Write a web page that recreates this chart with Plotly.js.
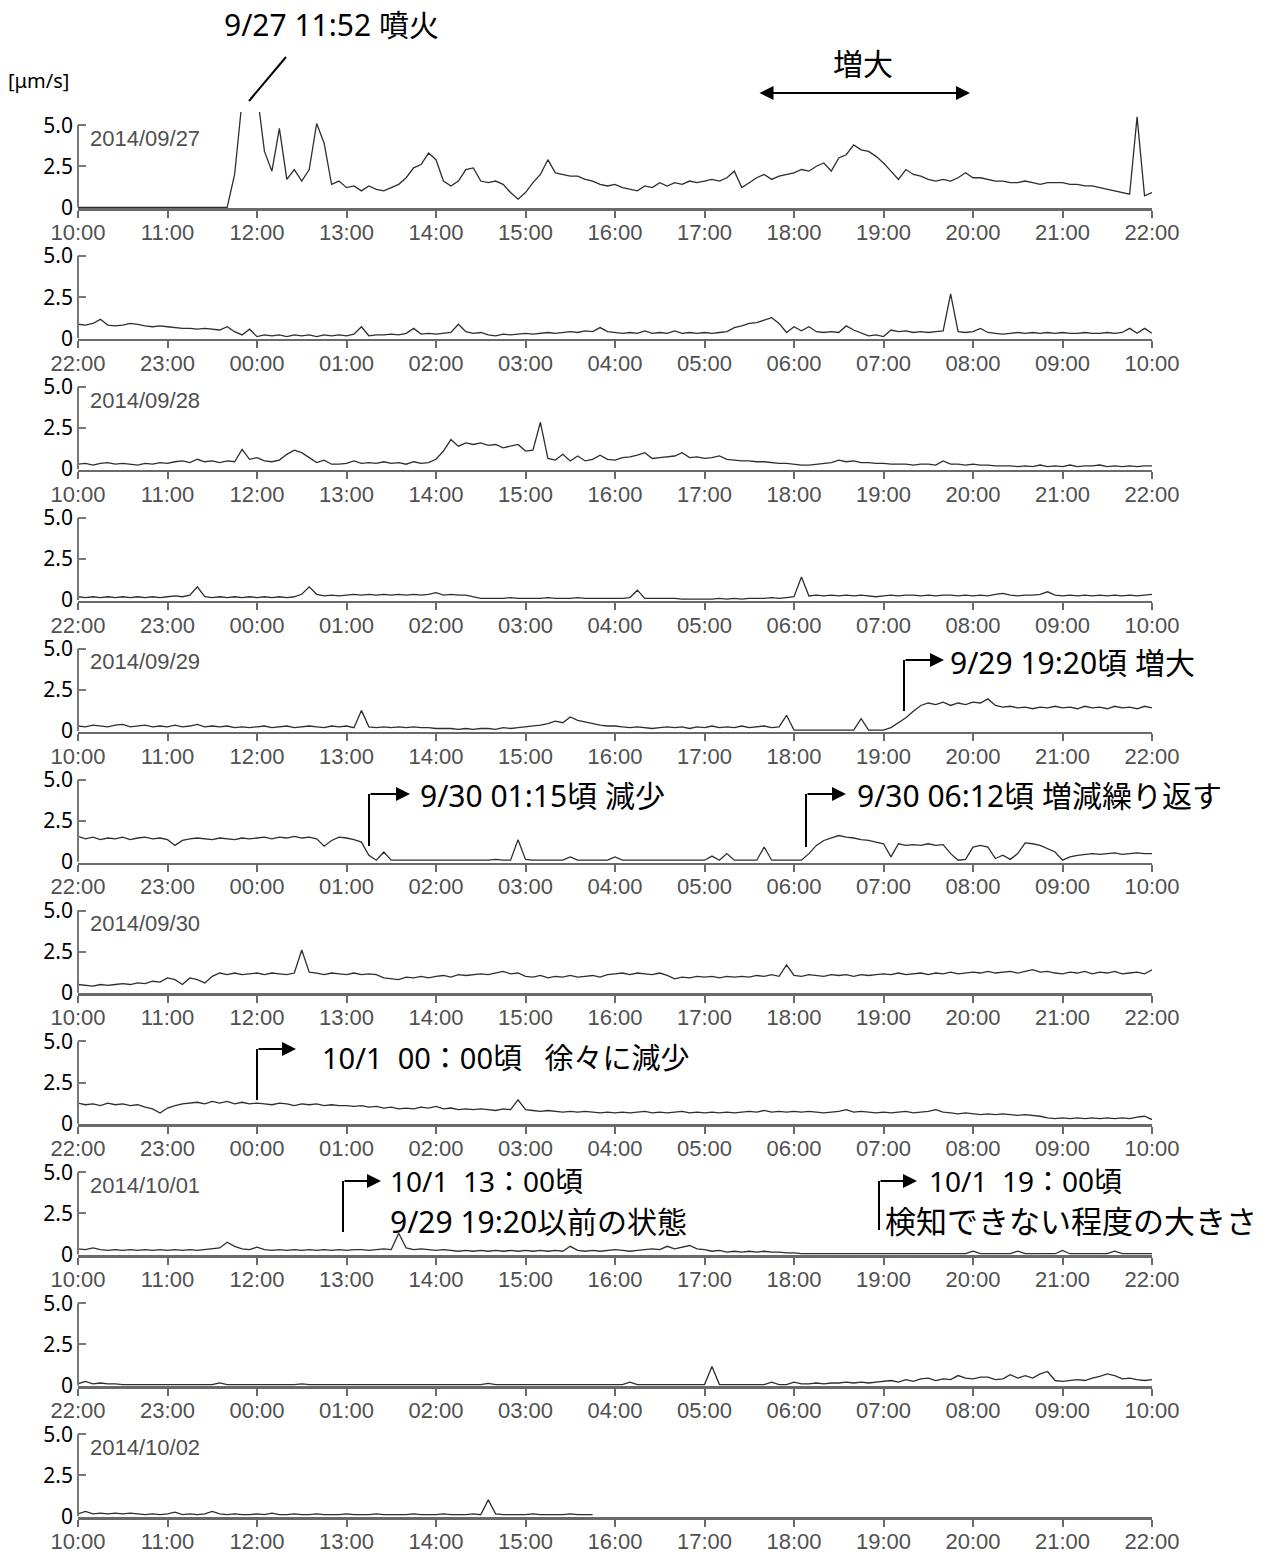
<!DOCTYPE html>
<html>
<head>
<meta charset="utf-8">
<script src="https://cdn.plot.ly/plotly-3.0.1.min.js"></script>
<style>html,body{margin:0;padding:0;background:#fff;}</style>
</head>
<body>
<div id="chart" style="width:1265px;height:1555px;"></div>
<script>
// ---- tick labels ----
const dayTicks = ['10:00','11:00','12:00','13:00','14:00','15:00','16:00','17:00','18:00','19:00','20:00','21:00','22:00'];
const nightTicks = ['22:00','23:00','00:00','01:00','02:00','03:00','04:00','05:00','06:00','07:00','08:00','09:00','10:00'];
const panelDates = ['2014/09/27', null, '2014/09/28', null, '2014/09/29', null, '2014/09/30', null, '2014/10/01', null, '2014/10/02'];
const stepMinutes = 5; // sampling interval of the series below

// ---- amplitude series [µm/s], one row per hour (12 samples each) ----
const p01 = [ // 9/27 10:00-22:00
0,0,0,0,0,0,0,0,0,0,0,0,
0,0,0,0,0,0,0,0,0,2.0,6.5,8,
7,3.4,2.2,4.8,1.7,2.3,1.6,2.3,5.1,3.9,1.4,1.6,
1.2,1.3,1.0,1.3,1.1,1.0,1.2,1.4,1.8,2.4,2.6,3.3,
2.9,1.6,1.3,1.6,2.3,2.4,1.6,1.5,1.6,1.4,0.9,0.5,
0.9,1.5,2.0,2.9,2.1,2.0,1.9,1.9,1.7,1.6,1.4,1.3,
1.4,1.2,1.1,1.0,1.3,1.2,1.5,1.3,1.5,1.4,1.6,1.5,
1.6,1.7,1.6,1.8,2.2,1.2,1.5,1.8,2.0,1.7,1.9,2.0,
2.1,2.3,2.2,2.5,2.7,2.2,3.0,3.2,3.8,3.5,3.4,3.1,
2.7,2.2,1.7,2.3,2.0,1.9,1.7,1.6,1.7,1.6,1.8,2.1,
1.8,1.8,1.7,1.6,1.6,1.5,1.5,1.6,1.5,1.4,1.5,1.5,
1.5,1.4,1.4,1.3,1.3,1.2,1.1,1.0,0.9,0.8,5.5,0.7,
0.9];
const p02 = [ // 9/27 22:00 - 9/28 10:00
0.85,0.8,0.9,1.15,0.8,0.75,0.8,0.9,0.85,0.75,0.7,0.75,
0.7,0.65,0.6,0.6,0.55,0.6,0.55,0.5,0.7,0.4,0.2,0.55,
0.1,0.2,0.15,0.2,0.1,0.2,0.15,0.2,0.1,0.2,0.15,0.2,
0.15,0.25,0.7,0.15,0.2,0.2,0.25,0.2,0.3,0.6,0.25,0.3,
0.25,0.3,0.35,0.85,0.4,0.3,0.35,0.2,0.15,0.25,0.2,0.25,
0.3,0.25,0.3,0.35,0.3,0.35,0.4,0.35,0.45,0.4,0.65,0.4,
0.35,0.3,0.35,0.3,0.45,0.3,0.35,0.3,0.45,0.3,0.35,0.3,
0.35,0.3,0.35,0.4,0.65,0.75,0.9,0.95,1.1,1.25,0.9,0.35,
0.7,0.45,0.7,0.4,0.35,0.4,0.35,0.75,0.5,0.3,0.15,0.2,
0.1,0.5,0.4,0.45,0.35,0.4,0.35,0.4,0.45,2.7,0.4,0.35,
0.4,0.6,0.35,0.3,0.25,0.3,0.35,0.3,0.35,0.3,0.35,0.3,
0.35,0.3,0.3,0.35,0.3,0.3,0.35,0.3,0.35,0.6,0.3,0.6,
0.3];
const p03 = [ // 9/28 10:00-22:00
0.3,0.35,0.25,0.35,0.4,0.3,0.35,0.3,0.25,0.35,0.3,0.4,
0.35,0.45,0.5,0.4,0.6,0.45,0.5,0.4,0.5,0.45,1.2,0.6,
0.7,0.5,0.45,0.55,0.9,1.15,1.0,0.7,0.4,0.55,0.3,0.3,
0.35,0.5,0.35,0.4,0.35,0.45,0.35,0.4,0.3,0.45,0.35,0.4,
0.6,1.1,1.8,1.4,1.6,1.5,1.6,1.45,1.5,1.3,1.4,1.5,
1.1,1.15,2.85,0.65,0.55,0.9,0.5,0.8,0.5,0.6,0.85,0.6,
0.55,0.7,0.75,0.85,1.0,0.65,0.7,0.75,0.8,1.0,0.7,0.75,
0.65,0.7,0.8,0.6,0.55,0.5,0.5,0.45,0.45,0.4,0.35,0.35,
0.3,0.25,0.25,0.3,0.35,0.4,0.55,0.45,0.5,0.4,0.4,0.35,
0.35,0.3,0.3,0.3,0.25,0.3,0.3,0.25,0.5,0.3,0.3,0.25,
0.3,0.25,0.25,0.2,0.2,0.2,0.15,0.2,0.15,0.25,0.15,0.2,
0.15,0.25,0.15,0.2,0.2,0.25,0.15,0.2,0.15,0.2,0.15,0.2,
0.2];
const p04 = [ // 9/28 22:00 - 9/29 10:00
0.2,0.15,0.2,0.15,0.2,0.15,0.2,0.15,0.2,0.15,0.2,0.15,
0.2,0.25,0.2,0.3,0.8,0.2,0.15,0.2,0.15,0.2,0.15,0.2,
0.15,0.2,0.15,0.2,0.15,0.2,0.35,0.8,0.35,0.25,0.3,0.25,
0.3,0.35,0.3,0.35,0.3,0.35,0.3,0.35,0.3,0.35,0.3,0.35,
0.45,0.3,0.35,0.3,0.3,0.2,0.1,0.1,0.1,0.1,0.15,0.1,
0.1,0.1,0.1,0.15,0.1,0.1,0.1,0.15,0.1,0.1,0.1,0.1,
0.1,0.1,0.15,0.6,0.1,0.1,0.1,0.1,0.1,0.05,0.05,0.05,
0.05,0.05,0.1,0.05,0.1,0.05,0.1,0.1,0.1,0.15,0.1,0.15,
0.2,1.4,0.25,0.3,0.25,0.3,0.25,0.3,0.25,0.3,0.25,0.2,
0.25,0.3,0.25,0.3,0.3,0.25,0.3,0.25,0.3,0.3,0.25,0.3,
0.25,0.3,0.25,0.35,0.4,0.3,0.25,0.3,0.3,0.35,0.5,0.3,
0.25,0.3,0.25,0.3,0.25,0.3,0.25,0.3,0.25,0.3,0.25,0.3,
0.35];
const p05 = [ // 9/29 10:00-22:00
0.3,0.25,0.35,0.3,0.25,0.35,0.4,0.25,0.3,0.35,0.25,0.3,
0.25,0.35,0.25,0.3,0.4,0.25,0.3,0.25,0.3,0.2,0.25,0.2,
0.25,0.3,0.2,0.25,0.3,0.2,0.25,0.3,0.25,0.2,0.3,0.25,
0.3,0.2,1.25,0.25,0.2,0.25,0.2,0.25,0.2,0.25,0.2,0.2,
0.15,0.15,0.15,0.1,0.15,0.1,0.15,0.15,0.1,0.2,0.15,0.2,
0.25,0.3,0.35,0.45,0.6,0.5,0.85,0.65,0.55,0.45,0.35,0.3,
0.3,0.25,0.2,0.25,0.2,0.15,0.2,0.25,0.2,0.25,0.15,0.25,
0.2,0.3,0.2,0.25,0.2,0.3,0.2,0.25,0.3,0.2,0.25,0.95,
0.05,0.05,0.05,0.05,0.05,0.05,0.05,0.05,0.05,0.75,0.05,0.05,
0.05,0.2,0.5,0.8,1.2,1.55,1.7,1.6,1.75,1.55,1.7,1.6,
1.75,1.7,1.95,1.55,1.45,1.5,1.4,1.45,1.35,1.45,1.4,1.5,
1.4,1.45,1.35,1.5,1.4,1.45,1.35,1.5,1.4,1.45,1.35,1.5,
1.4];
const p06 = [ // 9/29 22:00 - 9/30 10:00
1.55,1.4,1.5,1.35,1.45,1.4,1.5,1.35,1.45,1.5,1.4,1.45,
1.35,1.0,1.3,1.4,1.45,1.4,1.35,1.45,1.4,1.35,1.45,1.4,
1.45,1.5,1.4,1.5,1.45,1.55,1.45,1.5,1.4,0.95,1.3,1.5,
1.45,1.35,1.2,0.4,0.1,0.6,0.1,0.1,0.1,0.1,0.1,0.1,
0.1,0.1,0.1,0.1,0.1,0.1,0.1,0.1,0.15,0.1,0.1,1.35,
0.15,0.1,0.1,0.1,0.1,0.1,0.3,0.1,0.1,0.1,0.1,0.1,
0.3,0.1,0.1,0.1,0.1,0.1,0.1,0.1,0.1,0.1,0.1,0.1,
0.1,0.35,0.1,0.5,0.1,0.1,0.1,0.1,0.9,0.1,0.1,0.1,
0.1,0.1,0.5,1.0,1.3,1.45,1.6,1.5,1.45,1.35,1.3,1.2,
1.1,0.3,1.1,1.0,1.05,1.0,1.1,1.0,1.05,0.5,0.1,0.15,
0.9,1.0,0.9,0.2,0.4,0.15,0.5,1.15,1.1,1.0,0.8,0.6,
0.1,0.3,0.4,0.45,0.5,0.45,0.5,0.55,0.45,0.5,0.55,0.5,
0.5];
const p07 = [ // 9/30 10:00-22:00
0.5,0.45,0.4,0.5,0.45,0.5,0.55,0.5,0.6,0.55,0.7,0.65,
0.9,0.8,0.5,0.9,0.8,0.6,1.0,1.2,1.1,1.2,1.1,1.15,
1.2,1.1,1.2,1.15,1.1,1.2,2.6,1.25,1.2,1.1,1.2,1.15,
1.1,1.2,1.1,1.15,1.1,0.9,0.85,0.8,0.95,0.9,1.0,0.9,
1.0,1.05,0.95,1.1,1.05,1.1,1.15,1.1,1.2,1.3,1.15,1.2,
1.0,0.95,1.05,0.9,1.0,0.95,1.05,0.95,1.0,1.05,0.95,1.1,
1.15,1.2,1.1,1.2,1.15,1.1,1.2,1.05,0.85,0.95,0.9,1.0,
0.95,1.0,0.9,1.0,0.95,1.0,0.95,1.05,1.0,1.1,1.0,1.7,
1.05,1.0,1.1,1.05,1.0,1.1,1.05,1.1,1.0,1.1,1.05,1.1,
1.15,1.1,1.2,1.1,1.15,1.2,1.1,1.2,1.15,1.25,1.15,1.2,
1.25,1.2,1.3,1.2,1.25,1.3,1.2,1.3,1.4,1.25,1.3,1.2,
1.15,1.25,1.2,1.3,1.15,1.25,1.2,1.3,1.15,1.2,1.25,1.15,
1.4];
const p08 = [ // 9/30 22:00 - 10/1 10:00
1.25,1.15,1.2,1.1,1.25,1.15,1.2,1.1,1.15,1.0,0.9,0.65,
0.95,1.1,1.2,1.25,1.3,1.2,1.35,1.25,1.35,1.2,1.3,1.2,
1.25,1.2,1.15,1.25,1.2,1.1,1.2,1.15,1.2,1.1,1.15,1.1,
1.1,1.05,1.1,1.0,1.05,0.95,1.0,0.9,0.95,0.9,1.0,0.95,
1.05,0.9,0.95,0.85,0.9,0.85,0.9,0.85,0.8,0.9,0.85,1.45,
0.85,0.8,0.75,0.8,0.75,0.7,0.75,0.7,0.75,0.7,0.65,0.7,
0.65,0.7,0.65,0.7,0.75,0.65,0.7,0.65,0.7,0.75,0.65,0.7,
0.65,0.7,0.65,0.7,0.65,0.7,0.75,0.7,0.8,0.7,0.75,0.7,
0.75,0.7,0.75,0.7,0.65,0.7,0.75,0.85,0.7,0.75,0.7,0.65,
0.7,0.65,0.7,0.75,0.65,0.7,0.75,0.85,0.7,0.65,0.6,0.65,
0.6,0.55,0.6,0.55,0.6,0.55,0.5,0.55,0.5,0.45,0.35,0.3,
0.35,0.3,0.35,0.3,0.35,0.3,0.35,0.3,0.35,0.3,0.4,0.45,
0.25];
const p09 = [ // 10/1 10:00-22:00
0.35,0.3,0.4,0.3,0.25,0.3,0.25,0.3,0.25,0.3,0.25,0.3,
0.25,0.3,0.25,0.3,0.25,0.3,0.35,0.4,0.75,0.5,0.35,0.3,
0.45,0.3,0.25,0.3,0.25,0.3,0.25,0.3,0.25,0.3,0.25,0.3,
0.25,0.3,0.3,0.25,0.3,0.35,0.3,1.3,0.4,0.3,0.35,0.3,
0.25,0.3,0.25,0.2,0.25,0.2,0.25,0.2,0.25,0.2,0.25,0.2,
0.25,0.2,0.25,0.2,0.25,0.2,0.5,0.25,0.2,0.25,0.2,0.25,
0.3,0.25,0.2,0.25,0.3,0.35,0.3,0.5,0.35,0.45,0.55,0.35,
0.3,0.2,0.25,0.15,0.2,0.15,0.2,0.15,0.2,0.15,0.15,0.1,
0.1,0.05,0.05,0.05,0.05,0.05,0.05,0.05,0.05,0.05,0.05,0.05,
0.05,0.05,0.05,0.05,0.05,0.05,0.05,0.05,0.05,0.05,0.05,0.05,
0.2,0.05,0.05,0.05,0.05,0.05,0.2,0.05,0.05,0.05,0.05,0.05,
0.25,0.05,0.05,0.05,0.05,0.05,0.05,0.2,0.05,0.05,0.05,0.05,
0.05];
const p10 = [ // 10/1 22:00 - 10/2 10:00
0.1,0.25,0.1,0.15,0.1,0.1,0.05,0.05,0.05,0.05,0.05,0.05,
0.05,0.05,0.05,0.05,0.05,0.05,0.05,0.15,0.05,0.05,0.05,0.05,
0.05,0.05,0.05,0.05,0.05,0.05,0.1,0.05,0.05,0.05,0.05,0.05,
0.05,0.05,0.05,0.05,0.05,0.05,0.05,0.05,0.05,0.05,0.05,0.05,
0.05,0.05,0.05,0.05,0.05,0.05,0.05,0.12,0.05,0.05,0.05,0.05,
0.05,0.05,0.05,0.05,0.05,0.05,0.05,0.05,0.05,0.05,0.05,0.05,
0.05,0.05,0.2,0.05,0.05,0.05,0.05,0.05,0.05,0.05,0.05,0.05,
0.05,1.15,0.05,0.05,0.05,0.05,0.05,0.05,0.05,0.2,0.05,0.05,
0.2,0.1,0.1,0.15,0.1,0.15,0.15,0.2,0.15,0.2,0.15,0.2,
0.25,0.3,0.2,0.35,0.25,0.4,0.45,0.3,0.4,0.35,0.6,0.45,
0.4,0.5,0.5,0.35,0.4,0.65,0.45,0.6,0.45,0.7,0.85,0.3,
0.25,0.3,0.35,0.3,0.45,0.55,0.7,0.6,0.4,0.45,0.35,0.3,
0.35];
const p11 = [ // 10/2 10:00-15:45 (record ends)
0.15,0.3,0.15,0.2,0.15,0.2,0.15,0.2,0.15,0.1,0.15,0.1,
0.15,0.25,0.1,0.15,0.1,0.15,0.3,0.15,0.1,0.15,0.1,0.1,
0.15,0.1,0.2,0.1,0.1,0.15,0.1,0.1,0.15,0.1,0.1,0.1,
0.15,0.1,0.1,0.1,0.15,0.1,0.1,0.1,0.1,0.15,0.1,0.1,
0.1,0.15,0.1,0.1,0.1,0.15,0.1,1.0,0.15,0.1,0.1,0.1,
0.1,0.15,0.1,0.1,0.1,0.1,0.15,0.1,0.1,0.1];

const panels = [p01,p02,p03,p04,p05,p06,p07,p08,p09,p10,p11];

// ---- layout geometry (page pixels) ----
const W = 1265, H = 1555, LEFT = 78, RIGHT = 1152;
const PITCH = 130.9, BASE0 = 208, PLOT_H = 96, YMAX = 5.8;
const P = x => (x - LEFT) / (RIGHT - LEFT);
const Q = y => 1 - y / H;

const tickFont = {family: "'Liberation Sans', Arial, sans-serif", size: 22, color: '#505050'};
const yFont = {family: "'Noto Sans', sans-serif", size: 21, color: '#000'};
const annFont = "'Noto Sans', 'Noto Sans CJK JP', sans-serif";

const layout = {
  width: W, height: H,
  margin: {l: LEFT, r: W - RIGHT, t: 0, b: 0},
  paper_bgcolor: '#fff', plot_bgcolor: 'rgba(0,0,0,0)',
  showlegend: false, hovermode: false,
  shapes: [], annotations: []
};
const traces = [];
const hourTicks = dayTicks.map((t, i) => i);

panels.forEach((vals, k) => {
  const s = k === 0 ? '' : String(k + 1);
  const bottom = BASE0 + PITCH * k, top = bottom - PLOT_H;
  layout['xaxis' + s] = {
    domain: [0, 1], anchor: 'y' + s, range: [0, 12],
    tickmode: 'array', tickvals: hourTicks, ticktext: (k % 2 === 0 ? dayTicks : nightTicks),
    ticks: 'outside', ticklen: 7, tickwidth: 2, tickcolor: '#6a6a6a',
    showline: true, linecolor: '#6a6a6a', linewidth: 2.5, ticklabelstandoff: -4,
    showgrid: false, zeroline: false, tickfont: tickFont, fixedrange: true
  };
  layout['yaxis' + s] = {
    domain: [Q(bottom), Q(top)], anchor: 'x' + s, range: [-0.04, YMAX],
    tickmode: 'array', tickvals: [0, 2.5, 5], ticktext: ['0', '2.5', '5.0'],
    ticks: 'inside', ticklen: 8, tickwidth: 2, tickcolor: '#777',
    showline: false, showgrid: false, zeroline: false,
    tickfont: yFont, ticklabelstandoff: 4, fixedrange: true
  };
  layout.shapes.push({type: 'line', xref: 'x' + s + ' domain', yref: 'y' + s,
    x0: 0, x1: 0, y0: 0, y1: 5, line: {color: '#777', width: 2}});
  if (panelDates[k]) {
    layout.annotations.push({xref: 'x' + s + ' domain', yref: 'y' + s, x: 0.0095, y: 4.2,
      xanchor: 'left', yanchor: 'middle', text: panelDates[k], showarrow: false,
      font: {family: tickFont.family, size: 22, color: '#505050'}});
  }
  traces.push({
    x: vals.map((v, i) => i * stepMinutes / 60), y: vals,
    xaxis: 'x' + s, yaxis: 'y' + s, mode: 'lines',
    line: {color: '#2e2e2e', width: 1.3}, hoverinfo: 'skip'
  });
});

function addText(t, x, y, anchor, size) {
  layout.annotations.push({xref: 'paper', yref: 'paper', x: P(x), y: Q(y),
    xanchor: anchor, yanchor: 'middle', text: t, showarrow: false,
    font: {family: annFont, size: size || 30, color: '#000'}});
}
function addLine(x0, y0, x1, y1) {
  layout.shapes.push({type: 'line', xref: 'paper', yref: 'paper',
    x0: P(x0), y0: Q(y0), x1: P(x1), y1: Q(y1), line: {color: '#000', width: 2}});
}
function addArrow(x0, y, x1, both) {
  layout.annotations.push({xref: 'paper', yref: 'paper', x: P(x1), y: Q(y),
    ax: x0 - x1, ay: 0, axref: 'pixel', ayref: 'pixel', text: '', showarrow: true,
    arrowhead: 2, arrowsize: 1.4, arrowwidth: 2, arrowcolor: '#000',
    arrowside: both ? 'end+start' : 'end', startarrowhead: 2, startarrowsize: 1.4,
    standoff: 0, startstandoff: 0});
}

addText('[μm/s]', 39, 80, 'center', 20);
addText('9/27 11:52 噴火', 331, 24, 'center');
addLine(249, 101, 286, 57);
addText('増大', 863, 64, 'center');
addArrow(758, 93, 970, true);

addLine(904, 711, 904, 660); addArrow(904, 660, 944);
addText('9/29 19:20頃 増大', 948, 662, 'left');

addLine(369, 846, 369, 794); addArrow(369, 794, 410);
addText('9/30 01:15頃 減少', 418, 795, 'left');
addLine(806, 847, 806, 794); addArrow(806, 794, 846);
addText('9/30 06:12頃 増減繰り返す', 855, 795, 'left');

addLine(257, 1100, 257, 1049); addArrow(257, 1049, 296);
addText('10/1\u00a0\u00a000：00頃\u00a0\u00a0\u00a0徐々に減少', 320, 1057, 'left', 29);

addLine(343, 1232, 343, 1181); addArrow(343, 1181, 381);
addText('10/1\u00a0\u00a013：00頃', 388, 1181, 'left', 28);
addText('9/29 19:20以前の状態', 388, 1221, 'left');
addLine(879, 1230, 879, 1181); addArrow(879, 1181, 917);
addText('10/1\u00a0\u00a019：00頃', 927, 1181, 'left', 28);
addText('検知できない程度の大きさ', 883, 1221, 'left', 31);

Plotly.newPlot('chart', traces, layout, {staticPlot: true, displayModeBar: false});
</script>
</body>
</html>
